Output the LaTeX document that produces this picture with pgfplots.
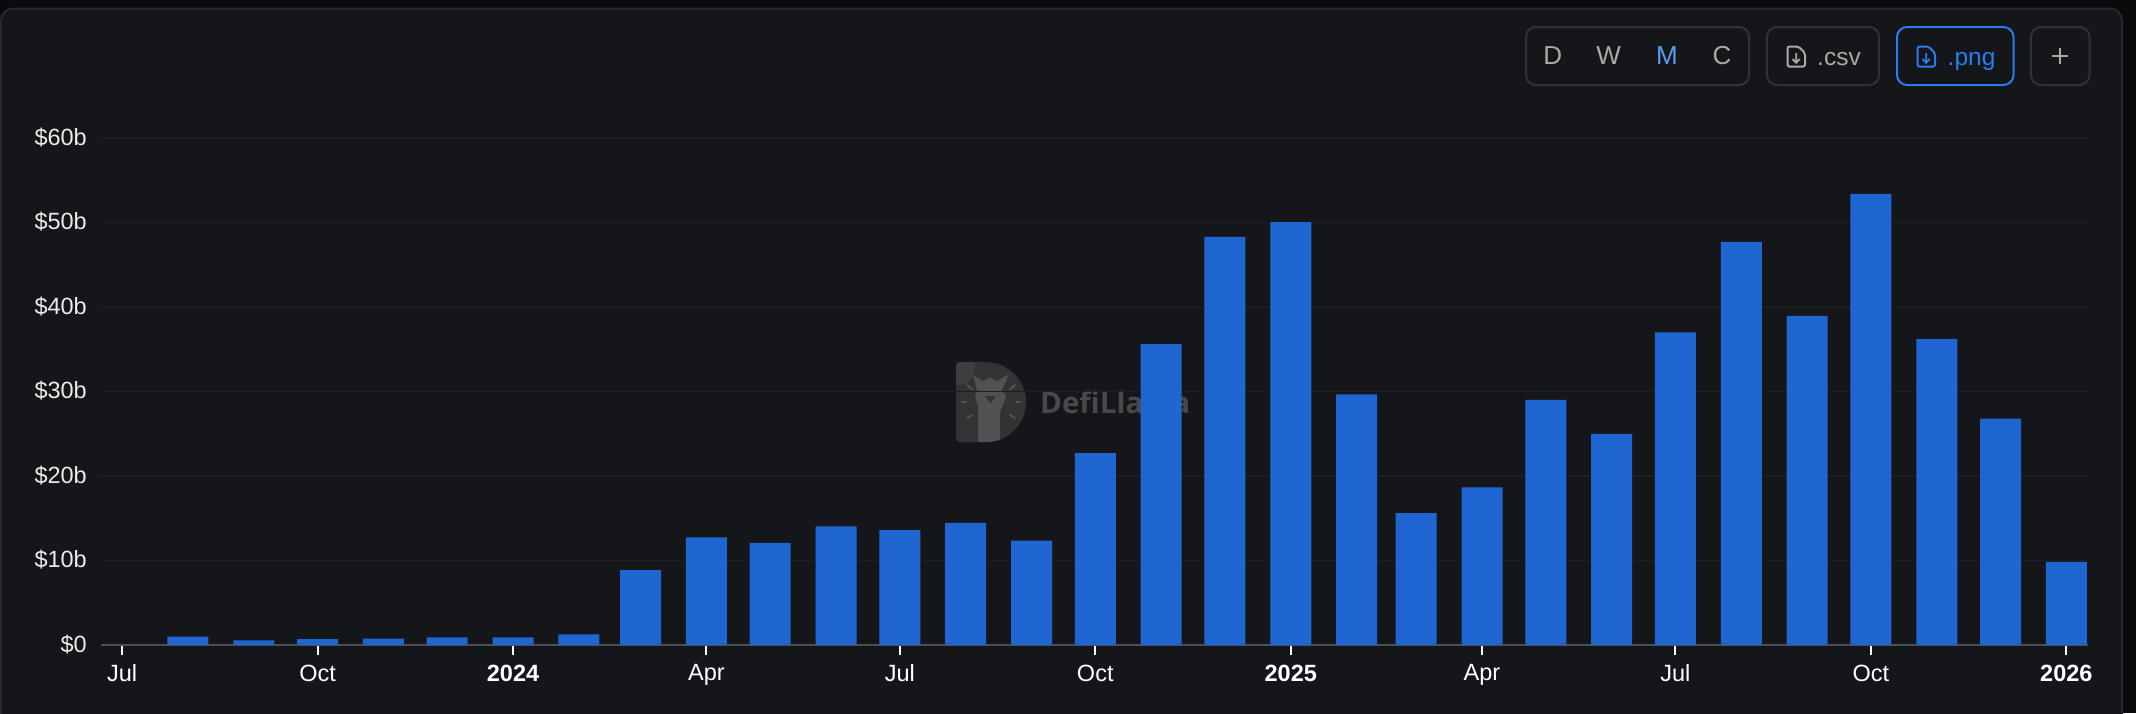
\documentclass[border=0pt]{standalone}
\usepackage{pgfplots}
\pgfplotsset{compat=1.18}
\usepackage{fontspec}
\setmainfont{Liberation Sans}
\newfontfamily\wmfont{Open Sans}
\definecolor{outerbg}{HTML}{090A0C}
\definecolor{panelbg}{HTML}{141619}
\definecolor{panelbd}{HTML}{25272A}
\definecolor{btnbd}{HTML}{303235}
\definecolor{btntx}{HTML}{A9A9A9}
\definecolor{blueM}{HTML}{5B9CF2}
\definecolor{bluebtn}{HTML}{2A7CF0}
\definecolor{barblue}{HTML}{1F66D3}
\definecolor{gridc}{HTML}{1C1E21}
\definecolor{axisc}{HTML}{4B4D50}
\definecolor{wmtext}{HTML}{48494B}
\definecolor{wmd}{HTML}{323335}
\definecolor{wmdl}{HTML}{3D3E40}
\definecolor{wml}{HTML}{505152}
\newcommand{\fs}[1]{\fontsize{#1}{#1}\selectfont}
\newcommand{\docicon}[2]{%
  \draw[#2,line width=2pt,rounded corners=2pt,line join=round]
    (#1,46.5) -- ++(11,0) -- ++(6.5,6.5) -- ++(0,13.5) -- ++(-17.5,0) -- cycle;
  \draw[#2,line width=1.8pt] (#1+8.7,53) -- ++(0,9) (#1+5,59) -- ++(3.7,3.7) -- ++(3.7,-3.7);
}
\begin{document}
\begin{tikzpicture}[x=1pt,y=-1pt]
\path[use as bounding box,fill=outerbg] (0,0) rectangle (2136,713);
\begin{scope}
\clip (0,0) rectangle (2136,713);
\draw[panelbd,fill=panelbg,line width=2pt,rounded corners=12pt] (1,8.5) rectangle (2122,760);
\end{scope}
% buttons
\draw[btnbd,line width=2pt,rounded corners=10pt] (1526,27) rectangle (1749,85);
\draw[btnbd,line width=2pt,rounded corners=10pt] (1767,27) rectangle (1879,85);
\draw[bluebtn,line width=2pt,rounded corners=10pt] (1897,27) rectangle (2013.5,85);
\draw[btnbd,line width=2pt,rounded corners=10pt] (2031,27) rectangle (2089.5,85);
\node[btntx,font=\fs{26}] at (1552.7,56) {D};
\node[btntx,font=\fs{26}] at (1608.7,56) {W};
\node[blueM,font=\fs{26}] at (1667,56) {M};
\node[btntx,font=\fs{26}] at (1722,56) {C};
\node[btntx,font=\fs{24.5},anchor=base west,inner sep=0pt] at (1817,65) {.csv};
\node[bluebtn,font=\fs{24.5},anchor=base west,inner sep=0pt] at (1947.5,65) {.png};
\docicon{1787.5}{btntx}
\docicon{1917.5}{bluebtn}
\draw[btntx,line width=1.6pt] (2052,56) -- (2068,56) (2060,48) -- (2060,64);
% watermark
\fill[wmd] (960,362) -- (986,362) arc (-90:90:40) -- (960,442)
  .. controls (957,442) and (956,440) .. (956,438) -- (956,366)
  .. controls (956,364) and (957,362) .. (960,362) -- cycle;
\fill[wmdl] (960,362) -- (975,362) .. controls (975,380) and (968,385) .. (956,385) -- (956,366)
  .. controls (956,364) and (957,362) .. (960,362) -- cycle;
\fill[wml] (978,442) -- (978,405) -- (975,397) -- (977,390) -- (973,375) -- (983,381) -- (990,377) -- (997,381) -- (1009,374) -- (1002,390) -- (1006,397) -- (1003,405) -- (1000,412) -- (1000,440) -- (990,442) -- cycle;
\fill[wmd] (985,396) -- (996,396) -- (990.5,403) -- cycle;
\draw[wml,line width=2pt,line cap=round]
  (967,385) -- (972,389) (1015,385) -- (1010,389)
  (962,402) -- (966,402) (1016,402) -- (1020,402)
  (967,418) -- (972,415) (1015,418) -- (1010,415);
\node[wmtext,font=\wmfont\bfseries\fs{29.5},anchor=base west,inner sep=0pt] at (1040,413) {DefiLlama};
% chart
\begin{axis}[
  at={(101pt,-645pt)},anchor=south west,
  scale only axis,width=1987pt,height=507pt,
  xmin=-9.9,xmax=925.2,ymin=0,ymax=60,
  axis x line*=bottom,axis y line*=left,
  axis line style={-},
  y axis line style={draw=none},
  x axis line style={draw=axisc,line width=2.4pt},
  ybar,bar width=41pt,
  xtick={0,92,184,275,366,458,550,640,731,823,915},
  xticklabels={Jul,Oct,\textbf{2024},Apr,Jul,Oct,\textbf{2025},Apr,Jul,Oct,\textbf{2026}},
  ytick={0,10,20,30,40,50,60},
  yticklabels={\$0,\$10b,\$20b,\$30b,\$40b,\$50b,\$60b},
  tick align=outside,
  major tick length=10pt,
  x tick style={white,line width=2pt},
  y tick style={draw=none},
  ymajorgrids,
  grid style={gridc,line width=1.6pt},
  x tick label style={font=\fs{23.5},text=white,yshift=-9.5pt,inner sep=0pt,anchor=north},
  y tick label style={font=\fs{23.5},text=white!92!black,anchor=east,inner sep=0pt,xshift=-4pt,yshift=0.5pt},
]
\addplot[fill=barblue,draw=none] coordinates {
(31,1.0)(62,0.55)(92,0.7)(123,0.75)(153,0.9)(184,0.9)(215,1.25)(244,8.85)
(275,12.75)(305,12.1)(336,14.05)(366,13.6)(397,14.45)(428,12.35)(458,22.7)
(489,35.6)(519,48.3)(550,50.05)(581,29.65)(609,15.6)(640,18.65)(670,29.0)
(701,25.0)(731,37.0)(762,47.7)(793,38.95)(823,53.4)(854,36.2)(884,26.8)(915,9.85)
};
\end{axis}
\end{tikzpicture}
\end{document}
